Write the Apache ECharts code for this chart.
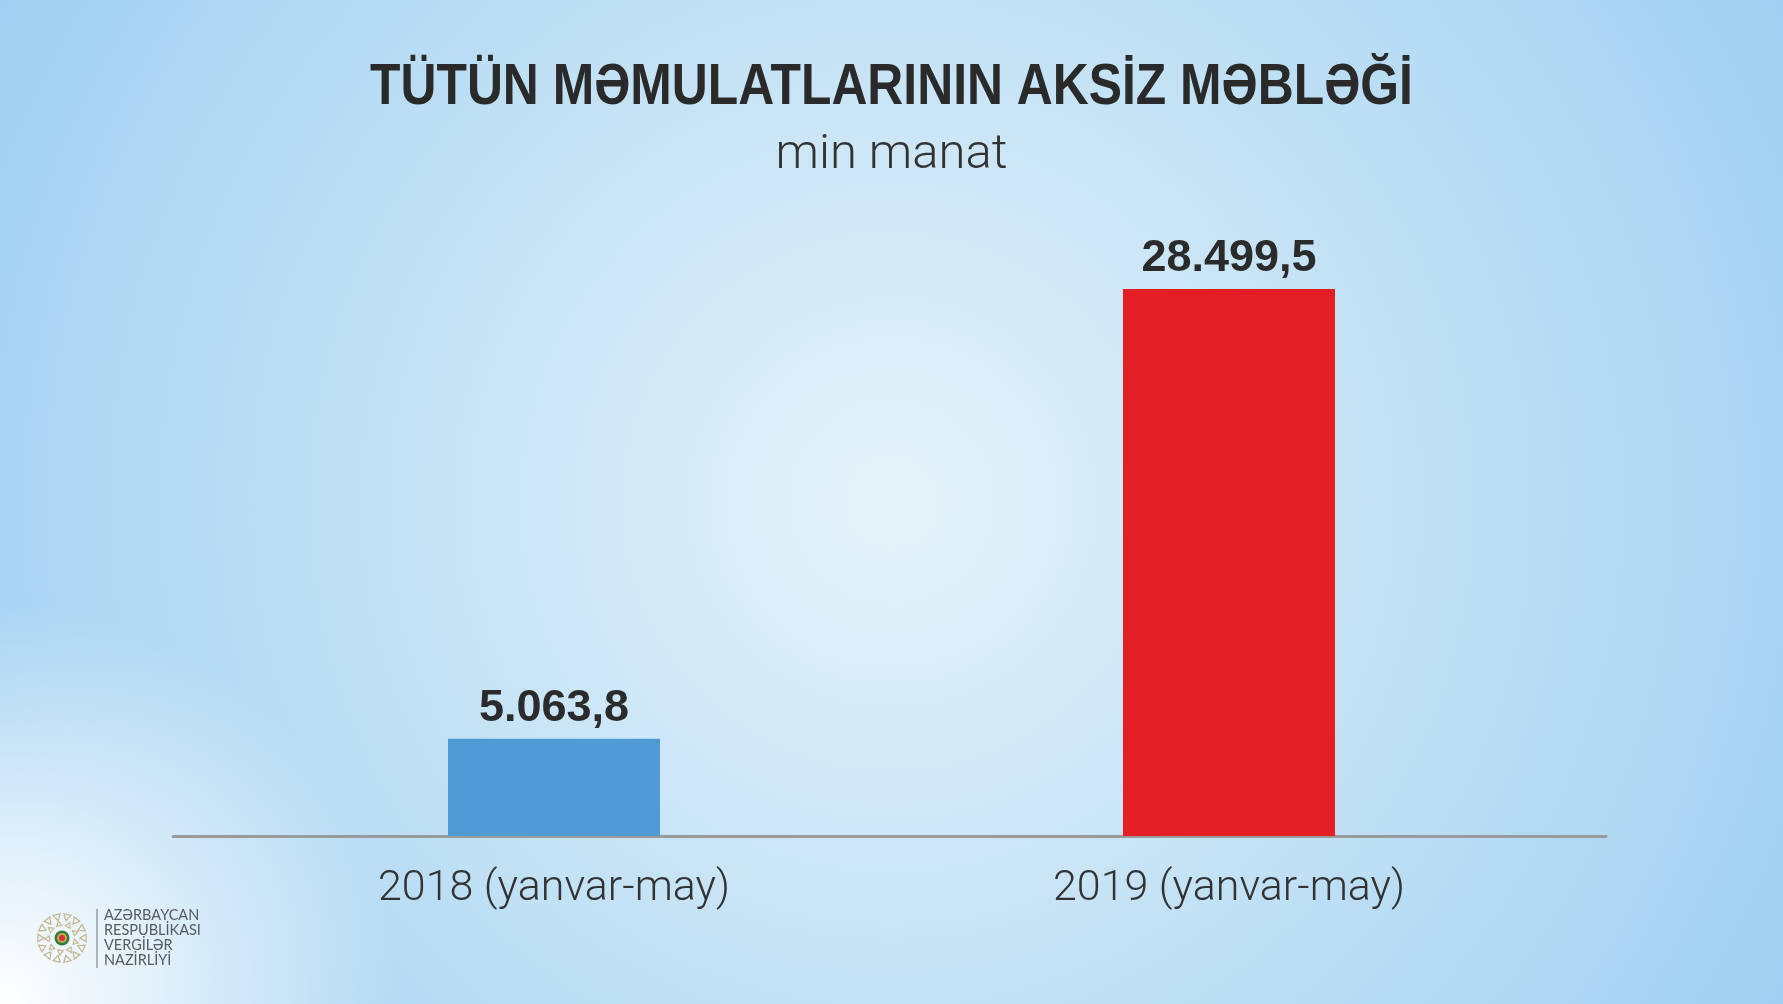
<!DOCTYPE html>
<html>
<head>
<meta charset="utf-8">
<script src="https://cdn.jsdelivr.net/npm/echarts@6/dist/echarts.min.js"></script>
<style>
html,body{margin:0;padding:0;width:1783px;height:1004px;overflow:hidden;}
#chart{width:1783px;height:1004px;
background:
 radial-gradient(circle 400px at 0% 100%, rgba(255,255,255,1) 0%, rgba(255,255,255,0.7) 35%, rgba(255,255,255,0) 100%),
 radial-gradient(circle farthest-corner at 50% 50%, #e6f3fa 0%, #c3e2f5 48%, #a1d0f2 100%);}
</style>
</head>
<body>
<div id="chart"></div>
<script>
const titleText = 'TÜTÜN MƏMULATLARININ AKSİZ MƏBLƏĞİ';
const subtitleText = 'min manat';
const categories = ['2018 (yanvar-may)', '2019 (yanvar-may)'];
const values = [5063.8, 28499.5];
const barColors = ['#4f9bd5', '#e31e25'];
const logoLines = ['AZƏRBAYCAN', 'RESPUBLİKASI', 'VERGİLƏR', 'NAZİRLİYİ'];

function fmt(v) {
  const parts = v.toFixed(1).split('.');
  return parts[0].replace(/\B(?=(\d{3})+(?!\d))/g, '.') + ',' + parts[1];
}

// emblem decoration
const emblem = [];
const cx = 62, cy = 938;
function tri(x, y, r, ang) {
  const pts = [];
  for (let k = 0; k < 3; k++) {
    const a = ang + k * 2 * Math.PI / 3;
    pts.push([x + r * Math.cos(a), y + r * Math.sin(a)]);
  }
  return pts;
}
for (let i = 0; i < 14; i++) {
  const a = i * 2 * Math.PI / 14;
  emblem.push({type: 'polygon', shape: {points: tri(cx + 22 * Math.cos(a), cy + 22 * Math.sin(a), 4.2, a + Math.PI)},
    style: {fill: 'none', stroke: '#c4b48c', lineWidth: 1.2}, silent: true});
}
for (let i = 0; i < 9; i++) {
  const a = i * 2 * Math.PI / 9 + 0.3;
  emblem.push({type: 'polygon', shape: {points: tri(cx + 14 * Math.cos(a), cy + 14 * Math.sin(a), 3.2, a)},
    style: {fill: 'none', stroke: '#c4b48c', lineWidth: 1.1}, silent: true});
}
emblem.push({type: 'circle', shape: {cx: cx, cy: cy, r: 7.5}, style: {fill: '#2f7d3c'}, silent: true});
emblem.push({type: 'circle', shape: {cx: cx, cy: cy, r: 5}, style: {fill: '#c9a94a'}, silent: true});
emblem.push({type: 'circle', shape: {cx: cx, cy: cy, r: 3}, style: {fill: '#d2323c'}, silent: true});

const logoText = logoLines.map((t, i) => ({
  type: 'text', left: 104, top: 908 + i * 14.8, silent: true,
  style: {text: t, fill: '#555b60', font: '14.5px Lato, "Noto Sans", sans-serif'}
}));

const chart = echarts.init(document.getElementById('chart'), null, {renderer: 'canvas'});
chart.setOption({
  backgroundColor: 'transparent',
  animation: false,
  title: [
    {text: subtitleText, left: 'center', top: 124,
     textStyle: {fontFamily: 'Roboto, "Open Sans", sans-serif', fontSize: 49, fontWeight: 300, color: '#333333', lineHeight: 54}}
  ],
  grid: [
    {left: 216.5, width: 1350, top: 260.2, height: 575.8},
    {left: 173, width: 1433, top: 260.2, height: 575.8}
  ],
  xAxis: [
    {type: 'category', gridIndex: 0, data: categories,
     axisLine: {show: false}, axisTick: {show: false},
     axisLabel: {margin: 32, fontSize: 43, fontWeight: 300, color: '#333333', fontFamily: 'Roboto, "Open Sans", sans-serif'}},
    {type: 'category', gridIndex: 1, data: categories,
     axisLine: {show: true, lineStyle: {color: '#9a9a9a', width: 3}},
     axisTick: {show: false}, axisLabel: {show: false}}
  ],
  yAxis: [
    {type: 'value', gridIndex: 0, min: 0, max: 30000, show: false, splitLine: {show: false}},
    {type: 'value', gridIndex: 1, min: 0, max: 30000, show: false, splitLine: {show: false}}
  ],
  series: [{
    type: 'bar', xAxisIndex: 0, yAxisIndex: 0, barWidth: 212,
    data: values.map((v, i) => ({value: v, itemStyle: {color: barColors[i]}})),
    label: {show: true, position: 'top', distance: 8, formatter: p => fmt(p.value),
      fontFamily: '"Liberation Sans", Arial, sans-serif', fontSize: 45, fontWeight: 'bold', color: '#2b2b2b'}
  }],
  graphic: [
    {type: 'text', x: 891.5, y: 88, scaleX: 0.874, silent: true,
     style: {text: titleText, align: 'center', verticalAlign: 'middle', fill: '#2a2a2a',
       font: 'bold 57px "Liberation Sans", Arial, sans-serif'}},
    {type: 'line', shape: {x1: 97, y1: 909, x2: 97, y2: 968}, style: {stroke: '#6f757a', lineWidth: 1}, silent: true},
    ...emblem,
    ...logoText
  ]
});
</script>
</body>
</html>
